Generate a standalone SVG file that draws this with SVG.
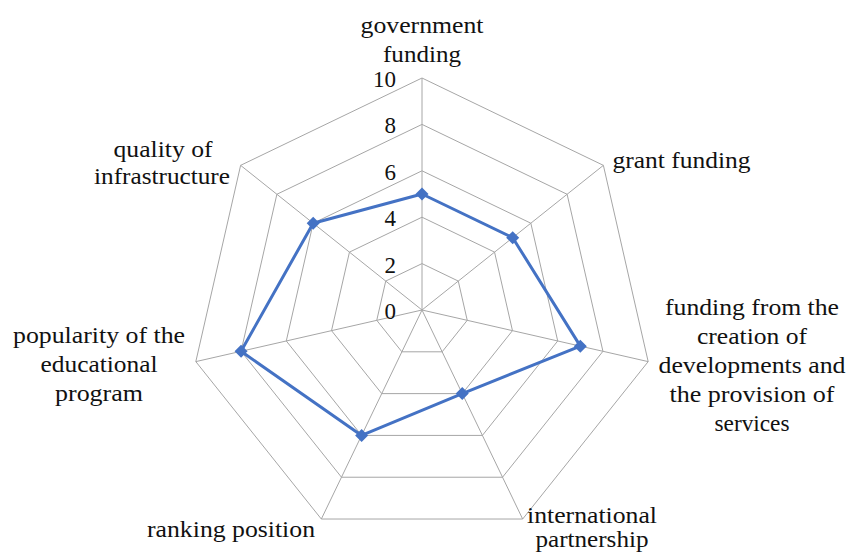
<svg xmlns="http://www.w3.org/2000/svg" xmlns:xlink="http://www.w3.org/1999/xlink" width="848" height="558" viewBox="0 0 848 558">
<style>
.grid{fill:none;stroke:#a6a6a6;stroke-width:1}
text{font-family:"Liberation Serif",Tinos,"Noto Serif","DejaVu Serif",FreeSerif,Georgia,"Times New Roman",Times,serif}
.lbl{font-size:24px;fill:#111}
.c{text-anchor:middle}
.tick{font-size:23px;fill:#111;text-anchor:end}
.series{fill:none;stroke:#4472c4;stroke-width:3;stroke-linejoin:round}
.mk{fill:#4472c4}
</style>
<defs>
<path id="dia" d="M0,-6.5 L6.5,0 L0,6.5 L-6.5,0 Z"/>
</defs>
<rect width="848" height="558" fill="#ffffff"/>
<g id="grid">
<polygon class="grid" points="422,78 603.38,165.35 648.18,361.62 522.66,519.03 321.34,519.03 195.82,361.62 240.62,165.35"/>
<polygon class="grid" points="422,124.4 567.11,194.28 602.95,351.30 502.53,477.22 341.47,477.22 241.05,351.30 276.89,194.28"/>
<polygon class="grid" points="422,170.8 530.83,223.21 557.71,340.97 482.40,435.42 361.60,435.42 286.29,340.97 313.17,223.21"/>
<polygon class="grid" points="422,217.2 494.55,252.14 512.47,330.65 462.26,393.61 381.74,393.61 331.53,330.65 349.45,252.14"/>
<polygon class="grid" points="422,263.6 458.28,281.07 467.24,320.32 442.13,351.80 401.87,351.80 376.76,320.32 385.72,281.07"/>
<path class="grid" d="M422,310 L422,78 M422,310 L603.38,165.35 M422,310 L648.18,361.62 M422,310 L522.66,519.03 M422,310 L321.34,519.03 M422,310 L195.82,361.62 M422,310 L240.62,165.35"/>
</g>
<g id="scale">
<text class="tick" x="396" y="87">10</text>
<text class="tick" x="396" y="133.4">8</text>
<text class="tick" x="396" y="179.8">6</text>
<text class="tick" x="396" y="226.2">4</text>
<text class="tick" x="396" y="272.6">2</text>
<text class="tick" x="396" y="319">0</text>
</g>
<g id="connectors">
<polygon class="series" points="422,194 512.69,237.68 580.33,346.14 462.26,393.61 361.60,435.42 241.05,351.30 313.17,223.21"/>
</g>
<g id="markers">
<use xlink:href="#dia" class="mk" x="422" y="194"/>
<use xlink:href="#dia" class="mk" x="512.69" y="237.68"/>
<use xlink:href="#dia" class="mk" x="580.33" y="346.14"/>
<use xlink:href="#dia" class="mk" x="462.26" y="393.61"/>
<use xlink:href="#dia" class="mk" x="361.60" y="435.42"/>
<use xlink:href="#dia" class="mk" x="241.05" y="351.30"/>
<use xlink:href="#dia" class="mk" x="313.17" y="223.21"/>
</g>
<g id="node-government-funding">
<text class="lbl c" x="422" y="33" textLength="123" lengthAdjust="spacingAndGlyphs">government</text>
<text class="lbl c" x="422" y="62" textLength="78" lengthAdjust="spacingAndGlyphs">funding</text>
</g>
<g id="node-grant-funding">
<text class="lbl" x="612.5" y="168" textLength="138" lengthAdjust="spacingAndGlyphs">grant funding</text>
</g>
<g id="node-funding-developments">
<text class="lbl c" x="752" y="315" textLength="174" lengthAdjust="spacingAndGlyphs">funding from the</text>
<text class="lbl c" x="752" y="344" textLength="110" lengthAdjust="spacingAndGlyphs">creation of</text>
<text class="lbl c" x="752" y="373" textLength="187" lengthAdjust="spacingAndGlyphs">developments and</text>
<text class="lbl c" x="752" y="402" textLength="165" lengthAdjust="spacingAndGlyphs">the provision of</text>
<text class="lbl c" x="752" y="431" textLength="75" lengthAdjust="spacingAndGlyphs">services</text>
</g>
<g id="node-international-partnership">
<text class="lbl c" x="592" y="523" textLength="130" lengthAdjust="spacingAndGlyphs">international</text>
<text class="lbl c" x="592" y="547" textLength="113" lengthAdjust="spacingAndGlyphs">partnership</text>
</g>
<g id="node-ranking-position">
<text class="lbl c" x="231" y="537" textLength="168" lengthAdjust="spacingAndGlyphs">ranking position</text>
</g>
<g id="node-popularity">
<text class="lbl c" x="99" y="343" textLength="172" lengthAdjust="spacingAndGlyphs">popularity of the</text>
<text class="lbl c" x="99" y="372" textLength="117" lengthAdjust="spacingAndGlyphs">educational</text>
<text class="lbl c" x="99" y="401" textLength="88" lengthAdjust="spacingAndGlyphs">program</text>
</g>
<g id="node-quality-infrastructure">
<text class="lbl c" x="163" y="157" textLength="99" lengthAdjust="spacingAndGlyphs">quality of</text>
<text class="lbl c" x="162" y="184" textLength="136" lengthAdjust="spacingAndGlyphs">infrastructure</text>
</g>
</svg>
